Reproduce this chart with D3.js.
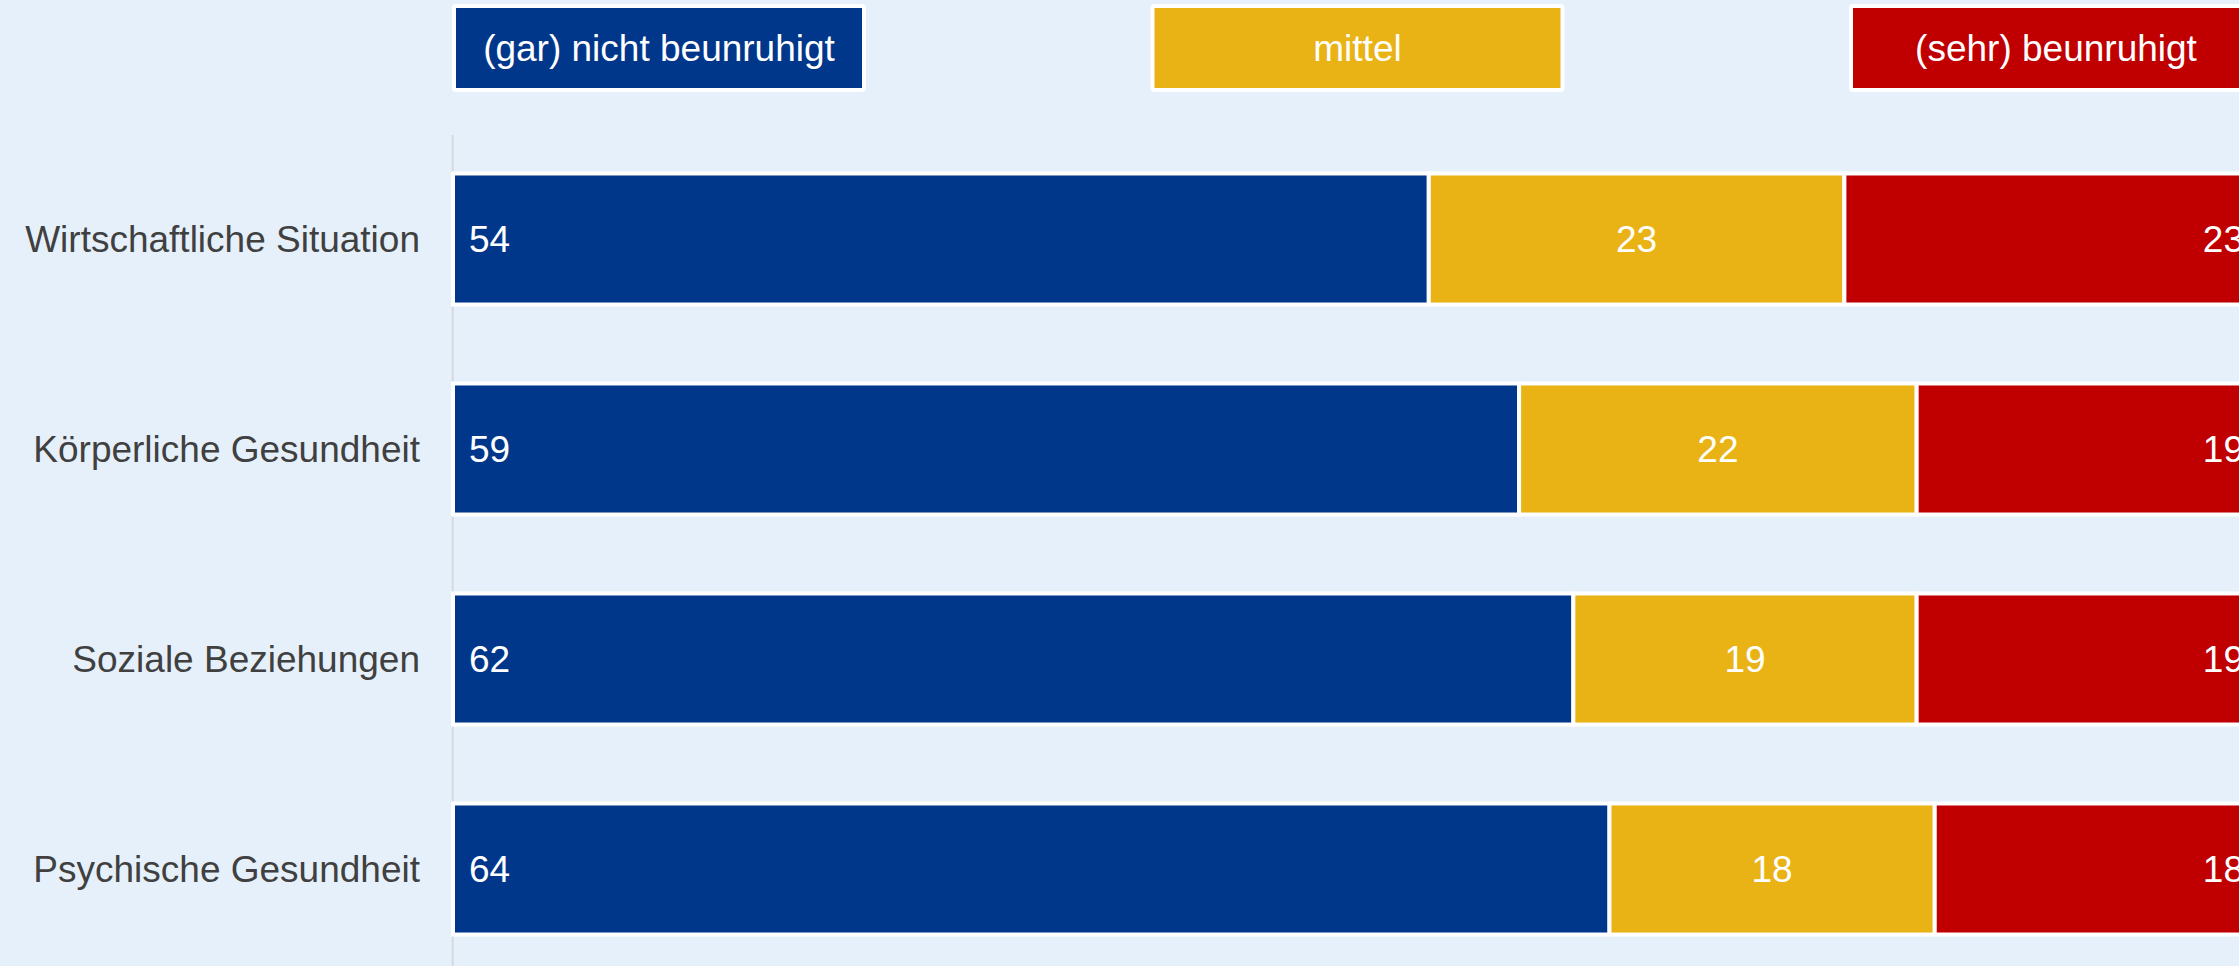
<!DOCTYPE html>
<html>
<head>
<meta charset="utf-8">
<script src="https://cdn.jsdelivr.net/npm/d3@7"></script>
<style>
  html, body { margin: 0; padding: 0; background: #e6f0fa; overflow: hidden; }
  svg { display: block; }
  text { font-family: "Liberation Sans", Arial, sans-serif; }
</style>
</head>
<body>
<svg id="chart" width="2239" height="966"></svg>
<script>
// ---- data ----
const categories = ["Wirtschaftliche Situation", "Körperliche Gesundheit", "Soziale Beziehungen", "Psychische Gesundheit"];
const seriesNames = ["(gar) nicht beunruhigt", "mittel", "(sehr) beunruhigt"];
const nichtBeunruhigt = [54, 59, 62, 64];
const mittel = [23, 22, 19, 18];
const sehrBeunruhigt = [23, 19, 19, 18];
const seriesColors = ["#00378b", "#e9b315", "#c00000"];

// ---- layout ----
const W = 2239, H = 966;
const svg = d3.select("#chart");
svg.append("rect").attr("width", W).attr("height", H).attr("fill", "#e6f0fa");

const x = d3.scaleLinear().domain([0, 100]).range([453, 2260]);
const y = d3.scaleBand().domain(categories).range([134, 974]).paddingInner(0.376).paddingOuter(0.188);

const seriesValues = [nichtBeunruhigt, mittel, sehrBeunruhigt];
const stackData = categories.map((c, i) => {
  const row = { cat: c };
  seriesNames.forEach((s, j) => row[s] = seriesValues[j][i]);
  return row;
});
const stacked = d3.stack().keys(seriesNames)(stackData);

// axis line
svg.append("line")
  .attr("x1", x(0) - 0.3).attr("x2", x(0) - 0.3)
  .attr("y1", 135).attr("y2", H)
  .attr("stroke", "#d6d9dd").attr("stroke-width", 2);

// bars
const layers = svg.append("g").selectAll("g").data(stacked).join("g")
  .attr("fill", (d, i) => seriesColors[i]);
layers.selectAll("rect").data(d => d).join("rect")
  .attr("x", d => x(d[0]))
  .attr("width", d => x(d[1]) - x(d[0]))
  .attr("y", d => y(d.data.cat))
  .attr("height", y.bandwidth())
  .attr("stroke", "#ffffff").attr("stroke-width", 4);

// data labels
const fs = 37;
stacked.forEach((layer, j) => {
  svg.append("g").selectAll("text").data(layer).join("text")
    .attr("x", d => j === 0 ? x(d[0]) + 16 : (j === 1 ? (x(d[0]) + x(d[1])) / 2 : x(d[1]) - 16))
    .attr("y", d => y(d.data.cat) + y.bandwidth() / 2)
    .attr("dy", "0.35em")
    .attr("text-anchor", j === 0 ? "start" : (j === 1 ? "middle" : "end"))
    .attr("fill", "#ffffff")
    .attr("font-size", fs)
    .text(d => d[1] - d[0]);
});

// category labels
const yAxis = d3.axisLeft(y).tickSize(0).tickPadding(33);
const ya = svg.append("g").attr("transform", `translate(${x(0)},0)`).call(yAxis);
ya.select(".domain").remove();
ya.selectAll("text")
  .attr("font-size", fs)
  .attr("font-family", "'Liberation Sans', Arial, sans-serif")
  .attr("fill", "#404040")
  .attr("dy", "0.35em");

// legend
const legendStep = 698.5;
const lg = svg.append("g").selectAll("g").data(seriesNames).join("g")
  .attr("transform", (d, i) => `translate(${454 + i * legendStep},6)`);
lg.append("rect")
  .attr("width", 410).attr("height", 84)
  .attr("rx", 2)
  .attr("fill", (d, i) => seriesColors[i])
  .attr("stroke", "#ffffff").attr("stroke-width", 4);
lg.append("text")
  .attr("x", 205).attr("y", 42).attr("dy", "0.35em")
  .attr("text-anchor", "middle")
  .attr("fill", "#ffffff")
  .attr("font-size", fs)
  .text(d => d);
</script>
</body>
</html>
